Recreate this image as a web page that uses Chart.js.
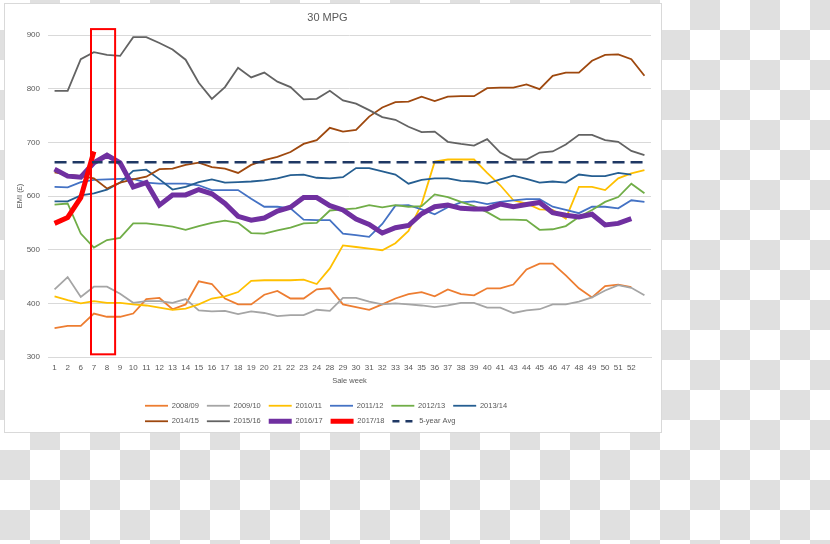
<!DOCTYPE html>
<html>
<head>
<meta charset="utf-8">
<script src="https://cdn.jsdelivr.net/npm/chart.js@4"></script>
<style>
  html, body { margin: 0; padding: 0; }
  body {
    width: 830px; height: 544px; position: relative; overflow: hidden;
    background: repeating-conic-gradient(#e0e0e0 0 25%, #ffffff 0 50%) 0 0 / 60px 60px;
  }
  #frame {
    position: absolute; left: 4px; top: 3px; width: 658px; height: 430px;
    box-sizing: border-box; background: #fff; border: 1px solid #d9d9d9;
  }
  #wrap { position: absolute; left: 4px; top: 3px; width: 658px; height: 432px; }
</style>
</head>
<body>
<div id="frame"></div>
<div id="wrap"><canvas id="myChart"></canvas></div>
<script>
// sale weeks on the x axis (last slot has no label)
const weeks = ['1','2','6','7','8','9','10','11','12','13','14','15','16','17','18','19','20','21','22','23','24',
               '28','29','30','31','32','33','34','35','36','37','38','39','40','41','43','44','45','46','47','48',
               '49','50','51','52',''];

const s0809 = [354,358,358,381,375,375,381,408,410,389, 398,441,436,409,398,398,416,423,409,409,
               426,428,398,393,388,398,409,417,421,413, 426,417,415,428,428,435,463,474,474,452,
               428,411,432,435,430,null];
const s0910 = [426,449,412,431,431,418,401,404,404,401, 408,387,385,386,380,385,382,376,378,378,
               388,386,410,410,403,398,400,398,396,393, 396,401,401,392,392,382,387,389,398,398,
               403,411,424,434,429,415];
const s1011 = [413,406,400,404,401,401,398,396,392,388, 390,398,409,413,421,442,443,443,443,444,
               436,465,508,505,502,499,512,535,585,664, 668,668,668,643,620,592,586,575,574,558,
               617,617,611,633,642,648];
const s1112 = [617,616,626,630,631,632,632,625,623,623, 623,620,611,611,611,595,580,580,577,556,
               555,555,530,527,524,548,582,583,575,566, 579,588,590,585,589,592,594,594,580,574,
               568,580,580,577,592,589];
const s1213 = [584,586,530,504,518,522,549,549,546,543, 537,544,550,554,550,531,530,536,541,549,
               550,573,575,577,583,579,583,580,581,603, 598,589,581,570,556,556,555,537,538,544,
               561,574,589,598,623,605];
const s1314 = [590,590,601,605,612,625,647,649,631,612, 617,626,631,625,626,627,629,633,639,640,
               634,633,635,652,652,646,640,623,630,633, 633,628,627,623,631,638,632,625,627,625,
               640,637,637,643,640,null];
const s1415 = [644,640,637,633,614,625,631,636,650,651, 658,662,654,651,643,658,667,673,682,697,
               704,727,720,723,748,765,775,776,785,777, 785,786,786,801,802,802,808,799,824,830,
               830,852,863,864,855,824];
const s1516 = [796,796,855,868,863,861,896,896,885,873, 854,811,781,803,839,821,830,813,803,780,
               781,796,778,772,760,747,742,729,719,720, 701,697,694,706,681,668,668,681,683,696,
               714,714,704,701,684,676];
const s1617 = [650,637,635,662,676,662,617,625,583,602, 602,612,604,586,562,555,559,572,579,597,
               597,582,574,557,547,531,541,545,567,580, 583,577,576,576,585,580,584,588,569,564,
               561,566,546,549,558,null];
const s1718 = [549,560,597,683];
const avg5  = [663,663,663,663,663,663,663,663,663,663, 663,663,663,663,663,663,663,663,663,663,
               663,663,663,663,663,663,663,663,663,663, 663,663,663,663,663,663,663,663,663,663,
               663,663,663,663,663,663];

// highlighted weeks (red box): category indexes and value range
const boxFrom = 3, boxTo = 4, boxTop = 911, boxBottom = 305;

Chart.defaults.font.family = 'Liberation Sans';
Chart.defaults.color = '#595959';

function series(label, data, color, width, order, dash) {
    return {
        label: label, data: data, borderColor: color, backgroundColor: color,
        borderWidth: width, borderDash: dash || [], pointRadius: 0, pointHoverRadius: 0,
        tension: 0, fill: false, order: order
    };
}

// red box drawn over the lines
const markBox = {
    id: 'markBox',
    afterDatasetsDraw(chart) {
        const ctx = chart.ctx, x = chart.scales.x, y = chart.scales.y;
        const step = x.getPixelForValue(1) - x.getPixelForValue(0);
        const left = x.getPixelForValue(boxFrom) - 0.22 * step;
        const right = x.getPixelForValue(boxTo) + 0.62 * step;
        const top = y.getPixelForValue(boxTop);
        const bottom = y.getPixelForValue(boxBottom);
        ctx.save();
        ctx.strokeStyle = '#FF0000';
        ctx.lineWidth = 2;
        ctx.strokeRect(left, top, right - left, bottom - top);
        ctx.restore();
    }
};

// keep legend rows at 6 items, both starting at the same x
const legendRows = {
    id: 'legendRows',
    afterLayout(chart) {
        chart.legend.left = 133;
        chart.legend.right = 550;
    }
};

new Chart(document.getElementById('myChart').getContext('2d'), {
    type: 'line',
    data: {
        labels: weeks,
        datasets: [
            series('2008/09', s0809, '#ED7D31', 1.8, 11),
            series('2009/10', s0910, '#A5A5A5', 1.8, 10),
            series('2010/11', s1011, '#FFC000', 1.8, 9),
            series('2011/12', s1112, '#4472C4', 1.8, 8),
            series('2012/13', s1213, '#70AD47', 1.8, 7),
            series('2013/14', s1314, '#255E91', 1.8, 6),
            series('2014/15', s1415, '#9E480E', 1.8, 5),
            series('2015/16', s1516, '#636363', 1.8, 4),
            series('2016/17', s1617, '#7030A0', 5, 3),
            series('2017/18', s1718, '#FF0000', 5, 2),
            series('5-year Avg', avg5, '#1F3864', 2.5, 1, [12, 6])
        ]
    },
    options: {
        responsive: true,
        maintainAspectRatio: false,
        animation: false,
        layout: { padding: { left: 0, right: 11, top: 0, bottom: 0 } },
        plugins: {
            title: {
                display: true, text: '30 MPG', color: '#595959',
                font: { size: 11, weight: 'normal' },
                padding: { top: 8.4, bottom: 10.4 }
            },
            legend: {
                position: 'bottom',
                align: 'start',
                labels: {
                    usePointStyle: true, pointStyle: 'line', pointStyleWidth: 23,
                    padding: 8, font: { size: 7.5 }, color: '#595959',
                    generateLabels: chart => chart.data.datasets.map((ds, i) => ({
                        text: ds.label,
                        fillStyle: ds.borderColor,
                        strokeStyle: ds.borderColor,
                        lineWidth: ds.borderWidth,
                        lineDash: ds.borderDash.length ? [7, 6] : [],
                        pointStyle: 'line',
                        fontColor: '#595959',
                        hidden: !chart.isDatasetVisible(i),
                        datasetIndex: i
                    }))
                }
            },
            tooltip: { enabled: false }
        },
        scales: {
            x: {
                offset: true,
                grid: { display: false, drawTicks: false },
                border: { display: true, color: '#d9d9d9' },
                ticks: { autoSkip: false, maxRotation: 0, padding: 6, font: { size: 8 }, color: '#595959' },
                title: { display: true, text: 'Sale week', color: '#595959', font: { size: 7.5 }, padding: { top: 0, bottom: 8.5 } },
                afterFit: scale => { scale.height = 37; }
            },
            y: {
                min: 300, max: 900,
                grid: { color: '#d9d9d9', lineWidth: 1, drawTicks: false },
                border: { display: false },
                ticks: { stepSize: 100, padding: 8, font: { size: 8 }, color: '#595959' },
                title: { display: true, text: 'EMI (£)', color: '#595959', font: { size: 7.5 }, padding: { top: 11.5, bottom: 0 } },
                afterFit: scale => { scale.width = 44; }
            }
        }
    },
    plugins: [markBox, legendRows]
});
</script>
</body>
</html>
